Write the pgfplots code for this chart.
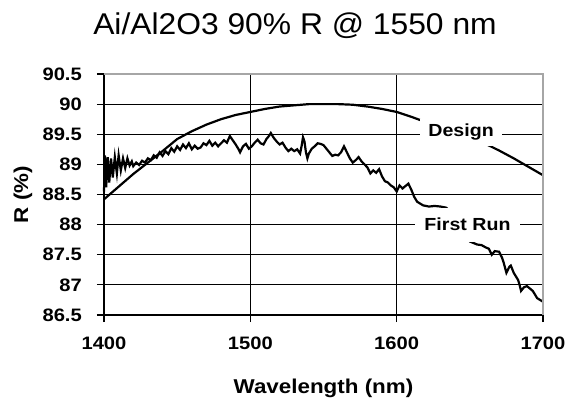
\documentclass[border=0pt]{standalone}
\usepackage{fontspec}
\usepackage{pgfplots}
\pgfplotsset{compat=1.18}
\setmainfont{Liberation Sans}
\newfontfamily\ls{Liberation Sans}[FakeStretch=1.12]
\newfontfamily\lst{Liberation Sans}[FakeStretch=1.06]
\newcommand\tickf{\ls\bfseries\fontsize{18bp}{20bp}\selectfont}
\newcommand\labf{\ls\bfseries\fontsize{20bp}{22bp}\selectfont}
\newcommand\annf{\ls\bfseries\fontsize{17.5bp}{20bp}\selectfont}
\begin{document}
\begin{tikzpicture}
\begin{axis}[
  at={(0,0)}, anchor=south west,
  scale only axis, width=439bp, height=241bp,
  xmin=1400, xmax=1700, ymin=86.5, ymax=90.5,
  xtick={1400,1500,1600,1700},
  ytick={86.5,87,87.5,88,88.5,89,89.5,90,90.5},
  /pgf/number format/assume math mode=true,
  /pgf/number format/1000 sep={},
  ticklabel style={font=\tickf},
  axis x line*=bottom, axis y line*=left,
  axis line style={line width=1.3bp, black, -},
  tick align=outside, major tick length=7bp,
  tick style={line width=1.2bp, black},
  xmajorgrids, ymajorgrids,
  grid style={line width=1.2bp, black},
  xticklabel style={inner sep=0pt, anchor=north, yshift=-15bp},
  yticklabel style={inner sep=0pt, anchor=east, xshift=-15bp},
  xlabel={Wavelength (nm)},
  ylabel={R (\%)},
  label style={font=\labf},
  xlabel style={at={(axis description cs:0.5,0)}, anchor=base, yshift=-78bp},
  ylabel style={at={(axis description cs:0,0.5)}, anchor=center, yshift=81bp},
  clip=false,
]
\addplot[black, line width=2.2bp] coordinates {
(1400,88.42) (1410,88.63) (1420,88.84) (1430,89.03) (1440,89.22) (1450,89.42)
(1460,89.55) (1470,89.66) (1480,89.75) (1490,89.82) (1500,89.87) (1510,89.92)
(1520,89.96) (1530,89.98) (1540,90.0) (1550,90.0) (1560,90.0) (1570,89.99)
(1580,89.96) (1590,89.92) (1600,89.87) (1610,89.79) (1620,89.70) (1630,89.61)
(1640,89.52) (1650,89.44) (1660,89.35) (1670,89.23) (1680,89.10) (1690,88.96)
(1700,88.82)
};
\addplot[black, line width=2.2bp] coordinates {
(1400,88.55) (1400.6,89.15) (1401.5,88.62) (1402.5,89.12) (1403.6,88.7) (1404.8,89.1)
(1406,88.78) (1407.4,89.12) (1408.8,88.85) (1410,89.15)
(1411.5,88.9) (1413,89.1) (1414.5,88.94) (1416,89.1)
(1417.5,88.98) (1419,89.05) (1420,88.97) (1422,89.03)
(1424,88.99) (1426,89.06) (1428,89.03) (1430,89.1) (1432,89.07) (1434,89.15)
(1436,89.11) (1438,89.2) (1440,89.14) (1442,89.22) (1444,89.17) (1446,89.27)
(1448,89.21) (1450,89.3) (1452,89.24) (1454,89.33) (1456,89.27) (1458,89.35)
(1460,89.25) (1462,89.31) (1464,89.26) (1466,89.28) (1468,89.35) (1470,89.32)
(1472,89.39) (1474,89.31) (1476,89.36) (1478,89.3) (1480,89.35) (1482,89.4)
(1484,89.36) (1486,89.47) (1488,89.4) (1490,89.33) (1492,89.25) (1493,89.2)
(1495,89.3) (1497,89.34) (1499,89.26) (1501,89.3) (1503,89.36) (1505,89.41)
(1507,89.35) (1509,89.33) (1511,89.42) (1513,89.48) (1514,89.52) (1516,89.44)
(1518,89.38) (1520,89.33) (1522,89.36) (1524,89.28) (1526,89.22) (1528,89.26)
(1530,89.22) (1532,89.25) (1534,89.18) (1535,89.3) (1536,89.45) (1537,89.38)
(1538,89.2) (1539,89.1) (1540,89.18) (1542,89.26) (1544,89.3) (1546,89.35)
(1548,89.34) (1550,89.32) (1552,89.26) (1554,89.2) (1556,89.14) (1558,89.16)
(1560,89.15) (1562,89.2) (1564,89.3) (1566,89.2) (1568,89.1) (1570,89.03)
(1572,89.07) (1574,89.12) (1576,89.05) (1578,89.0) (1580,88.95) (1582,88.85)
(1584,88.9) (1586,88.86) (1588,88.92) (1590,88.8) (1592,88.72) (1594,88.7)
(1596,88.65) (1598,88.62) (1600,88.55) (1602,88.65) (1604,88.6) (1606,88.64)
(1608,88.68) (1610,88.58) (1612,88.46) (1614,88.38) (1616,88.35) (1618,88.32)
(1622,88.3) (1626,88.31) (1630,88.3) (1634,88.28) (1640,88.1) (1645,87.9)
(1650,87.72) (1655,87.67) (1658,87.66) (1661,87.62) (1663,87.6) (1665,87.5)
(1667,87.56) (1670,87.55) (1672,87.45) (1673,87.38) (1675,87.2) (1677,87.3)
(1678,87.32) (1680,87.2) (1683,87.08) (1684,87.0) (1685,86.9) (1687,86.96)
(1689,86.98) (1691,86.94) (1693,86.9) (1696,86.78) (1698,86.75) (1700,86.72)
};
\draw[gray!70, line width=1.3bp] (rel axis cs:0,1) -- (rel axis cs:1,1) -- (rel axis cs:1,0);
\node[fill=white, minimum width=82bp, minimum height=27bp, inner sep=0pt, font=\annf] at (axis cs:1644,89.53) {Design};
\node[fill=white, minimum width=105bp, minimum height=34bp, inner sep=0pt, font=\annf] at (axis cs:1648.4,88.0) {First Run};
\end{axis}
\node[anchor=base, font=\lst\fontsize{30bp}{34bp}\selectfont] at (191bp,280bp) {Ai/Al2O3 90\% R @ 1550 nm};
\pgfresetboundingbox
\path[use as bounding box] (-104bp,-86bp) rectangle (461bp,315bp);
\end{tikzpicture}
\end{document}
